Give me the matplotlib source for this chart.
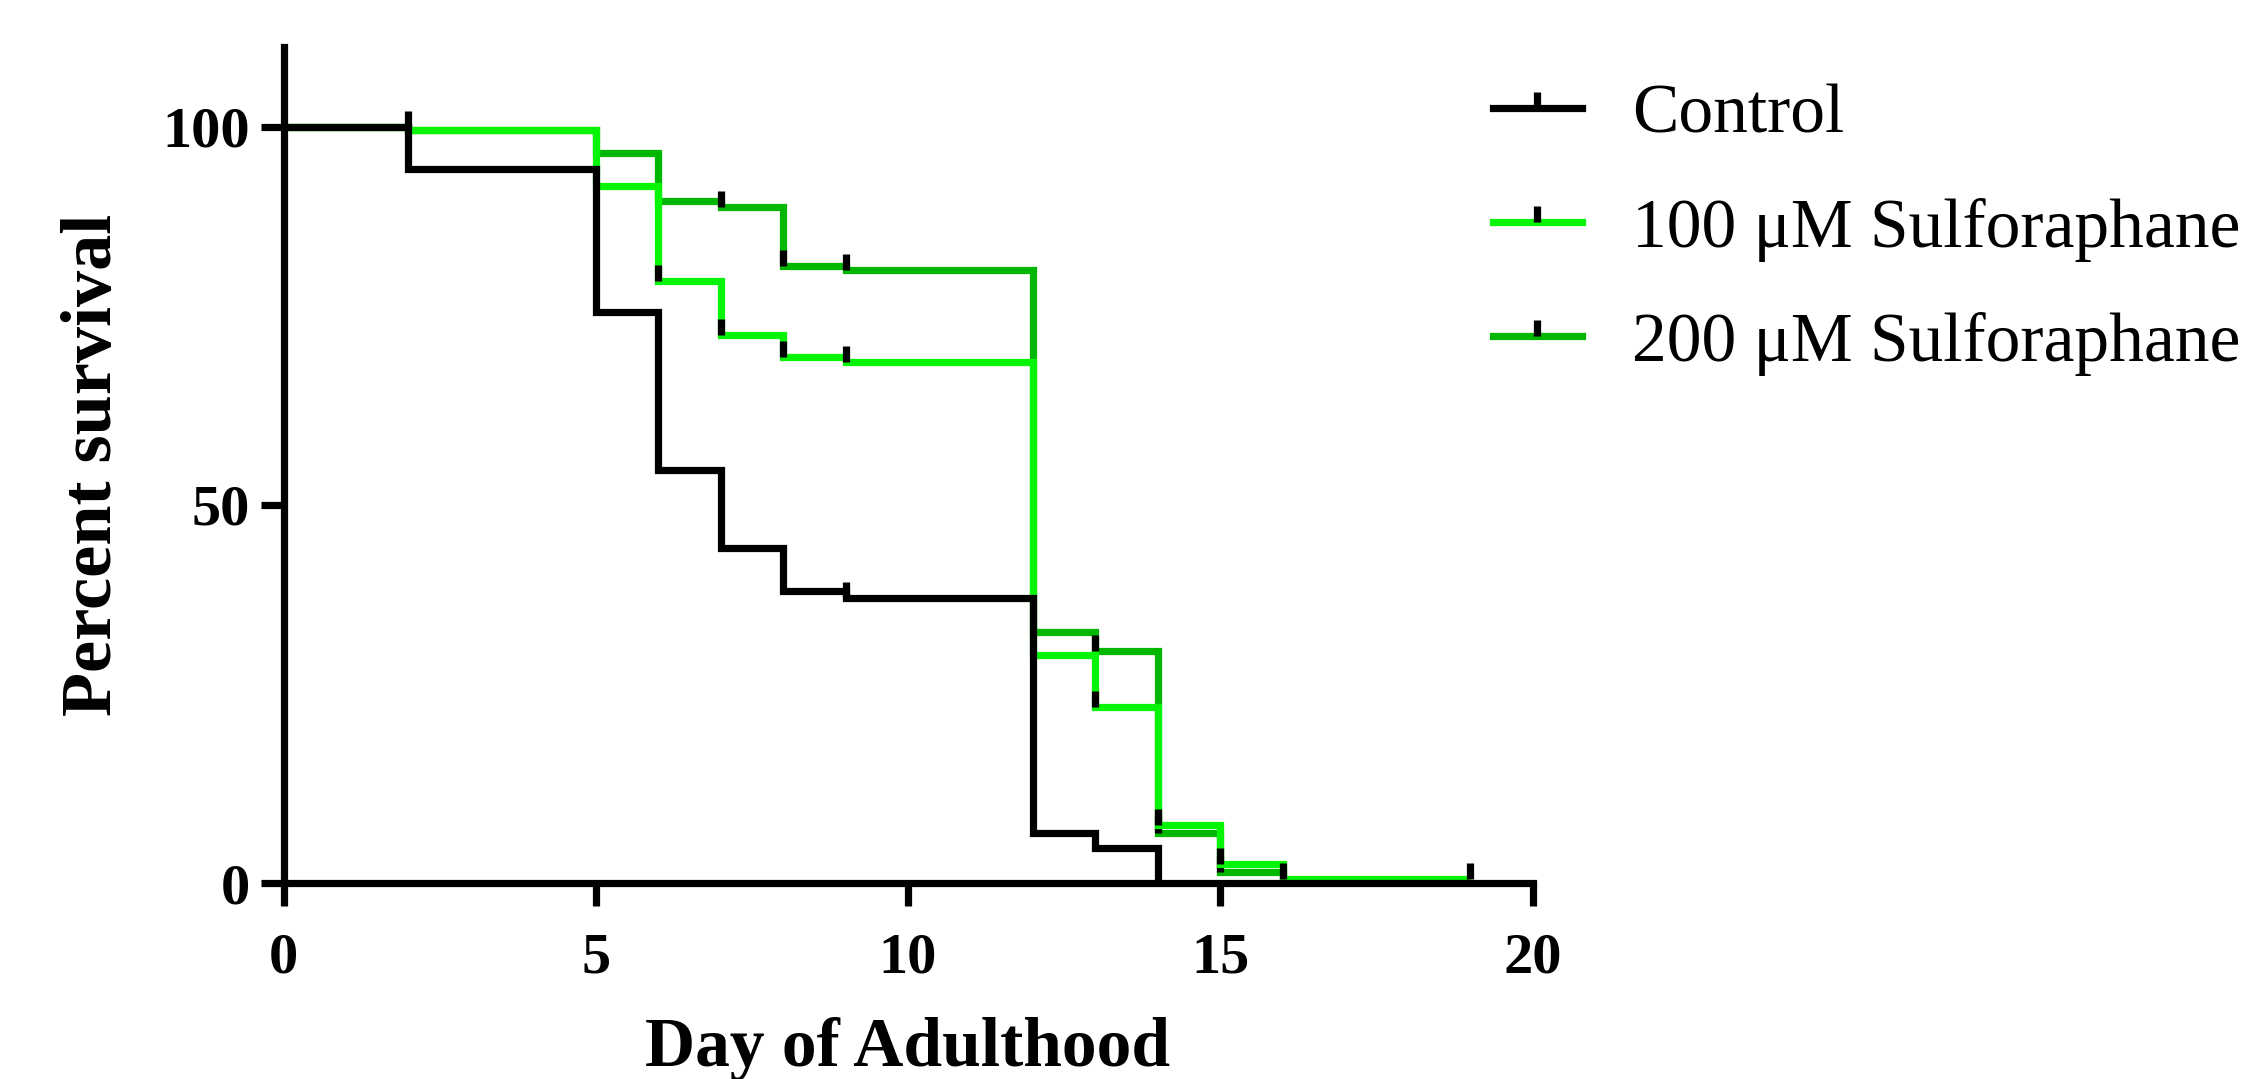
import matplotlib
matplotlib.use('Agg')
import matplotlib.pyplot as plt
from matplotlib.path import Path
from matplotlib.lines import Line2D

plt.rcParams['font.family'] = 'Liberation Serif'

# Kaplan-Meier steps (day, percent survival), drawn as post-steps
control_days = [0, 2, 5, 6, 7, 8, 9, 12, 13, 14]
control_surv = [100, 94.4, 75.5, 54.6, 44.3, 38.6, 37.7, 6.6, 4.6, 0]
sfn100_days = [0, 2, 5, 6, 7, 8, 9, 12, 13, 14, 15, 16, 19]
sfn100_surv = [100, 99.5, 92.2, 79.6, 72.5, 69.6, 68.9, 30.2, 23.3, 7.7, 2.6, 0.6, 0.6]
sfn200_days = [0, 2, 5, 6, 7, 8, 9, 12, 13, 14, 15, 16]
sfn200_surv = [100, 99.5, 96.5, 90.1, 89.4, 81.6, 81.0, 33.2, 30.7, 6.7, 1.5, 0]

# censored points (tick marks)
control_cens_days = [2, 9]
control_cens_surv = [100, 37.7]
sfn100_cens_days = [6, 7, 8, 9, 13, 14, 15, 16, 19]
sfn100_cens_surv = [79.6, 72.5, 69.6, 68.9, 23.3, 7.7, 2.6, 0.6, 0.6]
sfn200_cens_days = [7, 8, 9, 13, 14, 15]
sfn200_cens_surv = [89.4, 81.6, 81.0, 30.7, 6.7, 1.5]

labels = ['Control', '100 \u03bcM Sulforaphane', '200 \u03bcM Sulforaphane']
colors = ['black', '#06f406', '#00b700']

tick = Path([(0, 0), (0, 1)])  # upward censor tick
lw = 5.2

fig = plt.figure(figsize=(22.56, 10.79), dpi=100)
ax = fig.add_axes([0.1257, 0.1814, 0.5536, 0.775])

series = [
    (sfn200_days, sfn200_surv, sfn200_cens_days, sfn200_cens_surv, colors[2]),
    (sfn100_days, sfn100_surv, sfn100_cens_days, sfn100_cens_surv, colors[1]),
    (control_days, control_surv, control_cens_days, control_cens_surv, colors[0]),
]
z = 2.0
for days, surv, cd, cs, c in series:
    ax.step(days, surv, where='post', color=c, lw=lw, zorder=z,
            clip_on=False, solid_joinstyle='miter', solid_capstyle='butt')
    ax.plot(cd, cs, ls='none', marker=tick, ms=23, mew=5.2, mec='black',
            mfc='none', zorder=z + 0.01, clip_on=False)
    z += 0.02

ax.set_xlim(0, 20)
ax.set_ylim(0, 110.5)
ax.set_xticks([0, 5, 10, 15, 20])
ax.set_yticks([0, 50, 100])
for s in ['top', 'right']:
    ax.spines[s].set_visible(False)
for s in ['left', 'bottom']:
    ax.spines[s].set_linewidth(5.2)
ax.tick_params(direction='out', length=16.5, width=5.2, labelsize=42)
ax.tick_params(axis='x', pad=19)
ax.tick_params(axis='y', pad=8)
for lab in ax.get_xticklabels() + ax.get_yticklabels():
    lab.set_fontweight('bold')

ax.set_xlabel('Day of Adulthood', fontsize=50, fontweight='bold')
ax.set_ylabel('Percent survival', fontsize=52, fontweight='bold')
ax.xaxis.set_label_coords(0.5, -0.16)
ax.yaxis.set_label_coords(-0.126, 0.5)

handles = [Line2D([], [], color=c, lw=lw, marker=tick, ms=23, mew=5.2,
                  mec='black', mfc='none') for c in colors]
fig.legend(handles, labels, loc='upper left', bbox_to_anchor=(0.6618, 0.922),
           frameon=False, fontsize=50, numpoints=1, handlelength=1.28,
           handletextpad=0.72, labelspacing=0.72, borderpad=0, borderaxespad=0)

fig.savefig('out.png', dpi=100)
